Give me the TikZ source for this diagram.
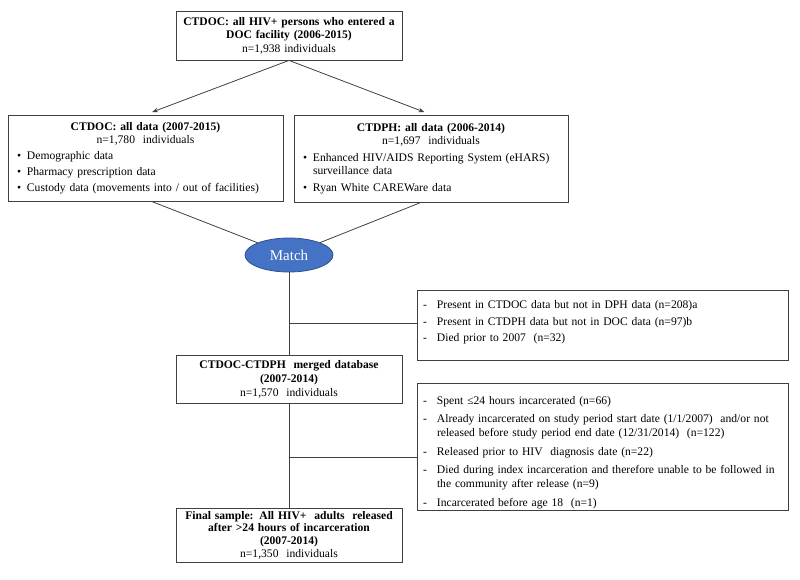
\documentclass[tikz,border=0pt]{standalone}
\usepackage{fontspec}
\setmainfont{Liberation Serif}
\usetikzlibrary{shapes.geometric,arrows.meta,calc}
\definecolor{matchfill}{RGB}{68,114,196}
\definecolor{matchdraw}{RGB}{47,82,143}
\definecolor{linegray}{RGB}{64,64,64}
\newcommand{\bitem}[1]{\par\noindent\hangindent=13pt\hangafter=1\hspace*{3pt}\makebox[10pt][l]{\textbullet}#1}
\newcommand{\ditem}[1]{\par\noindent\hangindent=14pt\hangafter=1\makebox[14pt][l]{-}#1}
\newcommand{\brk}{\hfil\break}
\begin{document}
\begin{tikzpicture}[x=1pt,y=-1pt,
  box/.style={draw=linegray, line width=0.8pt, rectangle, inner xsep=6pt, inner ysep=2pt,
    font=\fontsize{11.6}{13.5}\selectfont},
  conn/.style={draw=linegray, line width=0.8pt},
  arr/.style={conn, -{Stealth[length=6pt,width=4.5pt]}, shorten >=7pt}]
\useasboundingbox (0,0) rectangle (800,579);

\node[box, minimum width=226pt, minimum height=49pt, text width=216pt, inner xsep=5pt, align=center] (top) at (289,35.5)
  {\textbf{CTDOC:\ all HIV+ persons who entered a}\\\textbf{DOC facility (2006-2015)}\\n=1,938 individuals};

\node[box, minimum width=275pt, minimum height=86pt, text width=263pt, font=\fontsize{11.6}{13}\selectfont] (lbox) at (145.5,158)
  {{\centering\textbf{CTDOC:\ all data (2007-2015)}\\n=1,780 \ individuals\par}
   \setlength{\parskip}{3pt}\raggedright
   \bitem{Demographic data}
   \bitem{Pharmacy prescription data}
   \bitem{Custody data (movements into / out of facilities)}\par};

\node[box, minimum width=274pt, minimum height=87pt, text width=262pt, font=\fontsize{11.6}{13.5}\selectfont] (rbox) at (431,158.5)
  {{\centering\textbf{CTDPH:\ all data (2006-2014)}\\n=1,697 \ individuals\par}
   \setlength{\parskip}{3pt}\raggedright
   \bitem{Enhanced HIV/AIDS Reporting System (eHARS)\brk surveillance data}
   \bitem{Ryan White CAREWare data}\par};

\node[ellipse, fill=matchfill, draw=matchdraw, line width=0.8pt, minimum width=88pt, minimum height=34pt,
  inner sep=0pt, text=white, font=\fontsize{15}{17}\selectfont] (m) at (289,255) {Match};

\node[box, minimum width=371pt, minimum height=66pt, text width=359pt, font=\fontsize{11.6}{14}\selectfont] (b1) at (602.5,325)
  {\setlength{\parskip}{2.5pt}\raggedright
   \ditem{Present in CTDOC data but not in DPH data (n=208)a}
   \ditem{Present in CTDPH data but not in DOC data (n=97)b}
   \ditem{Died prior to 2007 \ (n=32)}\par\rule{0pt}{4pt}};

\node[box, minimum width=226pt, minimum height=48pt, text width=216pt, inner xsep=5pt, align=center, font=\fontsize{11.6}{14}\selectfont] (mg) at (289,379)
  {\textbf{CTDOC-CTDPH \ merged database}\\\textbf{(2007-2014)}\\n=1,570 \ individuals};

\node[box, minimum width=371pt, minimum height=124pt, text width=359pt, font=\fontsize{11.6}{14}\selectfont] (b2) at (602.5,447)
  {\setlength{\parskip}{4.5pt}\raggedright
   \ditem{Spent ≤24 hours incarcerated (n=66)}
   \ditem{Already incarcerated on study period start date (1/1/2007) \ and/or not\brk released before study period end date (12/31/2014) \ (n=122)}
   \ditem{Released prior to HIV \ diagnosis date (n=22)}
   \ditem{Died during index incarceration and therefore unable to be followed in\brk the community after release (n=9)}
   \ditem{Incarcerated before age 18 \ (n=1)}\par};

\node[box, minimum width=226pt, minimum height=54pt, text width=216pt, inner xsep=5pt, align=center, font=\fontsize{11.6}{12.6}\selectfont] (fin) at (289,535)
  {\textbf{Final sample: All HIV+ \ adults \ released}\\\textbf{after >24 hours of incarceration}\\\textbf{(2007-2014)}\\n=1,350 \ individuals};

\draw[arr] (top.south) -- (lbox.north);
\draw[arr] (top.south) -- (rbox.north);
\draw[conn] ($(lbox.south)+(6,0)$) -- (m);
\draw[conn] ($(rbox.south)+(-10,0)$) -- (m);
\draw[conn] (m.south) -- (mg.north);
\coordinate (j1) at (289,323);
\draw[conn] (j1) -- (j1 -| b1.west);
\draw[conn] (mg.south) -- (fin.north);
\coordinate (j2) at (289,457);
\draw[conn] (j2) -- (j2 -| b2.west);
\end{tikzpicture}
\end{document}
